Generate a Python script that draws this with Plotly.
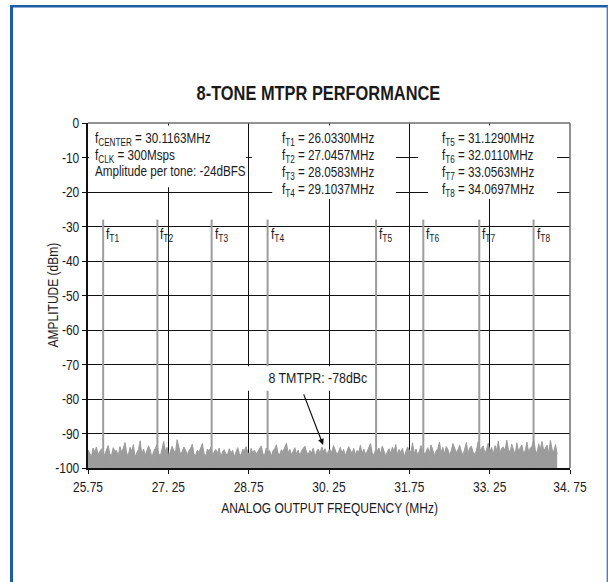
import plotly.graph_objects as go

# ---- data -------------------------------------------------------------
TONE_NAMES = ["T1", "T2", "T3", "T4", "T5", "T6", "T7", "T8"]
TONE_FREQS = [26.0330, 27.0457, 28.0583, 29.1037, 31.1290, 32.0110, 33.0563, 34.0697]  # MHz
TONE_PEAK_DBM = -28.0

F_CENTER = 30.1163   # MHz
F_CLK = 300          # Msps
TONE_AMPL = -24      # dBFS
MTPR = -78           # dBc

# noise floor samples (dBm), one per FFT bin starting at NOISE_START
NOISE_START = 25.75
NOISE_STEP = 0.0314
NOISE_DBM = [
    -94.8, -95.6, -96.9, -94.2, -95.3, -93.9, -96.1, -95.0, -94.4, -97.2, -95.8, -94.6, -93.5, -95.9, -96.4, -94.1, -95.2, -94.9, -96.6, -93.8,
    -95.4, -94.3, -92.6, -95.7, -96.2, -94.0, -95.1, -93.2, -96.8, -95.5, -94.7, -92.1, -95.9, -94.5, -96.3, -95.0, -93.6, -94.8, -97.0, -95.2,
    -94.2, -93.4, -95.8, -96.5, -94.6, -92.3, -95.1, -94.0, -96.7, -95.3, -93.7, -94.9, -95.6, -91.8, -94.4, -96.0, -95.2, -93.9, -94.7, -96.2,
    -95.0, -94.3, -93.1, -95.9, -96.4, -94.8, -95.5, -94.1, -92.9, -95.7, -96.6, -94.5, -95.1, -94.0, -96.3, -95.4, -94.6, -95.8, -94.2, -96.9,
    -95.3, -94.7, -95.9, -96.1, -94.4, -95.6, -94.9, -96.7, -95.2, -94.1, -95.8, -96.4, -94.6, -95.0, -93.8, -95.5, -96.2, -94.3, -95.7, -94.8,
    -96.0, -95.1, -94.5, -93.6, -95.8, -96.3, -94.2, -95.4, -94.9, -96.6, -95.0, -94.4, -93.3, -95.7, -96.1, -94.7, -95.2, -94.0, -92.8, -95.6,
    -94.6, -96.2, -95.3, -94.1, -95.9, -94.8, -96.5, -95.0, -94.3, -93.7, -95.4, -96.0, -94.9, -95.6, -94.2, -96.8, -95.1, -94.5, -95.8, -93.9,
    -95.2, -94.4, -96.3, -95.0, -94.7, -95.5, -93.5, -94.9, -96.1, -95.3, -94.0, -95.7, -94.6, -96.4, -95.1, -93.8, -94.8, -95.9, -94.3, -96.2,
    -94.9, -95.4, -93.4, -95.8, -94.5, -96.0, -95.2, -94.1, -92.9, -95.6, -96.3, -94.7, -95.0, -94.2, -95.9, -93.6, -94.8, -96.5, -95.3, -94.4,
    -95.7, -94.0, -95.1, -93.2, -96.2, -94.6, -95.5, -94.3, -96.7, -95.0, -93.9, -94.8, -95.4, -92.7, -95.8, -94.5, -96.1, -95.2, -93.5, -94.9,
    -96.0, -95.3, -94.1, -95.7, -93.3, -94.7, -96.4, -95.1, -94.4, -92.5, -95.6, -94.0, -95.9, -93.8, -94.6, -96.2, -95.0, -92.9, -94.3, -95.5,
    -94.8, -93.4, -95.2, -96.3, -94.5, -92.6, -95.8, -94.1, -93.7, -95.4, -96.0, -94.9, -92.4, -95.1, -94.2, -93.6, -95.7, -94.7, -92.8, -95.3,
    -94.0, -96.1, -93.5, -94.8, -92.2, -95.6, -94.3, -93.9, -95.0, -91.9, -94.6, -95.5, -93.1, -94.4, -96.2, -92.7, -95.2, -94.1, -93.3, -95.8,
    -94.9, -92.5, -95.4, -94.2, -93.8, -91.6, -94.7, -95.9, -93.0, -94.5, -92.3, -95.1, -94.0, -93.4, -95.7, -92.0, -94.6, -95.3, -93.2, -96.0,
]

X_TICKS = [25.75, 27.25, 28.75, 30.25, 31.75, 33.25, 34.75]
X_TICK_TEXT = ["25.75", "27. 25", "28.75", "30. 25", "31.75", "33. 25", "34. 75"]
Y_TICKS = [0, -10, -20, -30, -40, -50, -60, -70, -80, -90, -100]

# ---- styling ----------------------------------------------------------
FONT = "Liberation Sans, Arial, Helvetica, sans-serif"
SQUEEZE = 0.8            # horizontal compression giving a condensed face
TEXT = "#1a1a1a"
TRACE_GRAY = "#9c9c9c"
FRAME_BLUE = "#1f5ca6"
FLOOR = -100

W, H = 608, 582
L, R, T, B = 88, 38, 123, 114
pw, ph = W - L - R, H - T - B


def px(v):
    return (v - L) / pw


def py(v):
    return (H - B - v) / ph


noise_x = [NOISE_START + i * NOISE_STEP for i in range(len(NOISE_DBM))]

fig = go.Figure()

# baseline for the filled noise floor
fig.add_trace(go.Scatter(x=noise_x, y=[FLOOR] * len(noise_x), mode="lines",
                         line=dict(width=0, color=TRACE_GRAY), hoverinfo="skip",
                         showlegend=False))
fig.add_trace(go.Scatter(x=noise_x, y=NOISE_DBM, mode="lines", fill="tonexty",
                         fillcolor=TRACE_GRAY, line=dict(width=1, color=TRACE_GRAY),
                         showlegend=False))

# the eight carriers
sx, sy = [], []
for f in TONE_FREQS:
    sx += [f, f, None]
    sy += [FLOOR, TONE_PEAK_DBM, None]
fig.add_trace(go.Scatter(x=sx, y=sy, mode="lines",
                         line=dict(width=2, color=TRACE_GRAY), showlegend=False))

shapes = []
# white panels behind the text blocks
for x0, x1, y0, y1 in [(25.77, 28.70, -0.7, -18.6),
                       (28.81, 31.50, -0.7, -18.6),
                       (29.19, 31.50, -18.6, -22.0),
                       (31.91, 34.51, -0.7, -18.6),
                       (32.10, 34.51, -18.6, -22.0),
                       (28.67, 31.04, -70.5, -77.6)]:
    shapes.append(dict(type="rect", xref="x", yref="y", x0=x0, x1=x1, y0=y0, y1=y1,
                       fillcolor="white", line=dict(width=0), layer="above"))
# top and right edges of the plot box
shapes.append(dict(type="line", xref="paper", yref="paper", x0=0, x1=1, y0=1, y1=1,
                   line=dict(color="#6e6e6e", width=1.5), layer="above"))
shapes.append(dict(type="line", xref="paper", yref="paper", x0=1, x1=1, y0=0, y1=1,
                   line=dict(color="#6e6e6e", width=1.5), layer="above"))
# page frame
shapes.append(dict(type="line", xref="paper", yref="paper", x0=px(11.5), x1=px(11.5),
                   y0=py(5), y1=py(590), line=dict(color=FRAME_BLUE, width=3)))
shapes.append(dict(type="line", xref="paper", yref="paper", x0=px(10), x1=px(610),
                   y0=py(6.2), y1=py(6.2), line=dict(color=FRAME_BLUE, width=2.6)))
shapes.append(dict(type="line", xref="paper", yref="paper", x0=px(607.3), x1=px(607.3),
                   y0=py(6), y1=py(590), line=dict(color="#4a7fbf", width=1.4)))

annotations = []


def label(x, y, text, size, xanchor="left", align="left", **kw):
    annotations.append(dict(xref="paper", yref="paper", x=x, y=y, text=text,
                            showarrow=False, xanchor=xanchor, yanchor="middle",
                            align=align, font=dict(family=FONT, size=size, color=TEXT),
                            **kw))


# title and axis titles
label(px(318), py(92), "<b>8-TONE MTPR PERFORMANCE</b>", 20.5, "center", "center")
label(0.5, py(507), "ANALOG OUTPUT FREQUENCY (MHz)", 15, "center", "center")
label(px(53), 0.5, "AMPLITUDE (dBm)", 15, "center", "center", textangle=-90)

# info blocks, one annotation per line
LINE_Y = [137, 154, 171, 188]
block1 = [f"f<sub>CENTER</sub> = {F_CENTER:.4f}MHz",
          f"f<sub>CLK</sub> = {F_CLK}Msps",
          f"Amplitude per tone: {TONE_AMPL}dBFS"]
block2 = [f"f<sub>{n}</sub> = {f:.4f}MHz" for n, f in zip(TONE_NAMES[:4], TONE_FREQS[:4])]
block3 = [f"f<sub>{n}</sub> = {f:.4f}MHz" for n, f in zip(TONE_NAMES[4:], TONE_FREQS[4:])]
for x0, lines in [(93, block1), (280, block2), (440, block3)]:
    for yy, txt in zip(LINE_Y, lines):
        off = 2 if "<sub>" in txt else 0
        label(px(x0), py(yy + off), txt, 14.6)

# carrier labels
for n, f in zip(TONE_NAMES, TONE_FREQS):
    annotations.append(dict(x=f, y=-32.3, text=f"f<sub>{n}</sub>", showarrow=False,
                            xanchor="left", yanchor="middle", align="left", xshift=1,
                            font=dict(family=FONT, size=15, color=TEXT)))

# MTPR callout
annotations.append(dict(x=30.04, y=-73.9, text=f"8 TMTPR: {MTPR}dBc", showarrow=False,
                        xanchor="center", yanchor="middle", align="center",
                        font=dict(family=FONT, size=15.5, color=TEXT)))
annotations.append(dict(x=30.14, y=-93.3, ax=-20, ay=-52, text="", showarrow=True,
                        arrowhead=2, arrowsize=1, arrowwidth=1.2, arrowcolor="#111"))

axis_common = dict(showgrid=True, gridcolor="#111", gridwidth=1.4,
                   showline=True, linecolor="#111", linewidth=1.5,
                   ticks="outside", ticklen=4, tickcolor="#111", zeroline=False,
                   tickfont=dict(family=FONT, size=15, color=TEXT))

fig.update_layout(
    width=W, height=H,
    margin=dict(l=L, r=R, t=T, b=B, pad=0),
    paper_bgcolor="white", plot_bgcolor="white",
    shapes=shapes, annotations=annotations,
    font=dict(family=FONT, size=15, color=TEXT),
    xaxis=dict(range=[25.75, 34.75], tickvals=X_TICKS, ticktext=X_TICK_TEXT, **axis_common),
    yaxis=dict(range=[-100, 0], tickvals=Y_TICKS, ticktext=[str(v) for v in Y_TICKS],
               **axis_common),
    showlegend=False,
)

# narrow every text horizontally about its own anchor point (condensed look)
post_js = """
var gd = document.getElementById('{plot_id}');
gd.querySelectorAll('svg text').forEach(function (t) {
  var x = parseFloat(t.getAttribute('x') || 0);
  var y = parseFloat(t.getAttribute('y') || 0);
  var tr = t.getAttribute('transform') || '';
  t.setAttribute('transform', tr + ' translate(' + x + ',' + y + ') scale(%s,1) translate(' + (-x) + ',' + (-y) + ')');
});
""" % SQUEEZE

fig.write_html("out.html", post_script=post_js)
